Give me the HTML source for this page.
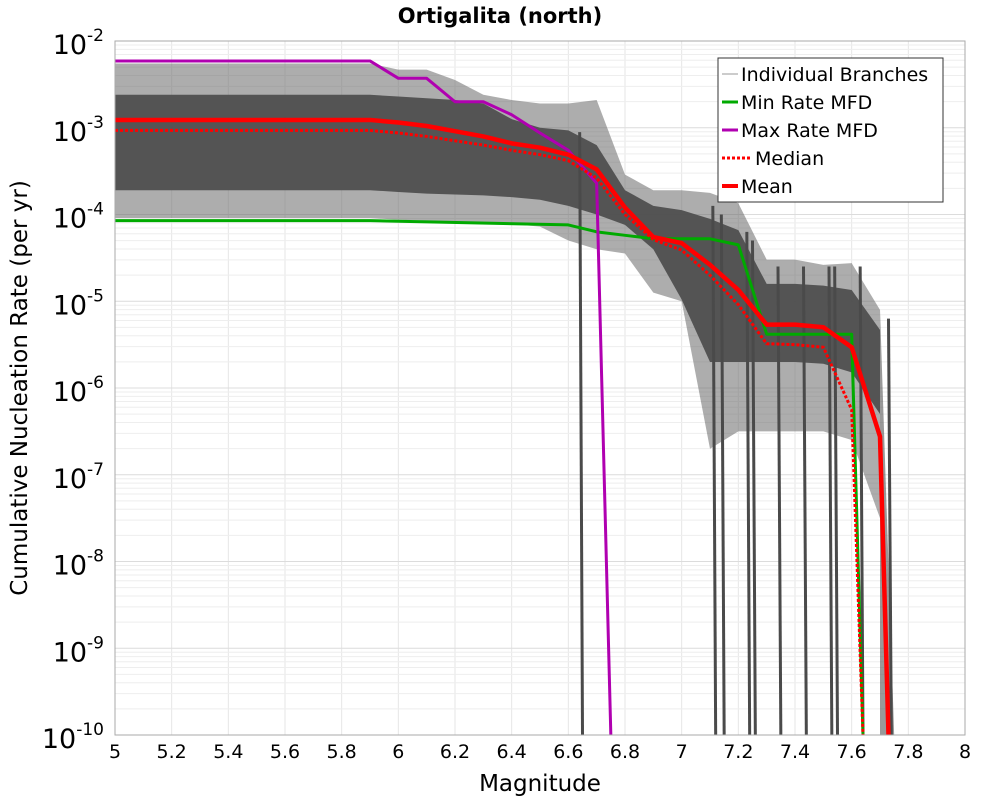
<!DOCTYPE html>
<html><head><meta charset="utf-8"><style>
body{margin:0;background:#fff;}
svg text{font-family:"DejaVu Sans","Liberation Sans",sans-serif;}
</style></head><body>
<svg id="chart" width="1000" height="800" xmlns="http://www.w3.org/2000/svg">
<text x="500" y="23" text-anchor="middle" font-size="21" font-weight="bold">Ortigalita (north)</text>
<g id="grid"></g>
<g id="band"></g>
<g id="series"></g>
<rect x="115" y="41" width="850" height="694" fill="none" stroke="#aaa" stroke-width="1"/>
<g id="xticks"></g>
<g id="yticks"></g>
<text x="540" y="791" text-anchor="middle" font-size="23">Magnitude</text>
<text transform="translate(27,388) rotate(-90)" text-anchor="middle" font-size="23">Cumulative Nucleation Rate (per yr)</text>
<g>
<rect x="718" y="58" width="225" height="144" fill="#fff" stroke="#333" stroke-width="1"/>
<line x1="722" y1="74" x2="738" y2="74" stroke="#999" stroke-width="1"/>
<text x="741" y="81" font-size="19">Individual Branches</text>
<line x1="722" y1="102" x2="738" y2="102" stroke="#00aa00" stroke-width="3"/>
<text x="741" y="109" font-size="19">Min Rate MFD</text>
<line x1="722" y1="130" x2="738" y2="130" stroke="#b000b0" stroke-width="3"/>
<text x="741" y="137" font-size="19">Max Rate MFD</text>
<line x1="722" y1="158" x2="750" y2="158" stroke="#f00" stroke-width="3" stroke-dasharray="3,2"/>
<text x="755" y="165" font-size="19">Median</text>
<line x1="722" y1="186" x2="738" y2="186" stroke="#f00" stroke-width="4"/>
<text x="741" y="193" font-size="19">Mean</text>
</g>
</svg>
<script>
const mags=[5.0,5.9,6.0,6.1,6.2,6.3,6.4,6.5,6.6,6.7,6.8,6.9,7.0,7.1,7.2,7.3,7.4,7.5,7.6,7.7];
// log10 rates
const minMag=[5.0,5.9,6.6,6.7,6.8,6.9,7.0,7.1,7.2,7.3,7.4,7.5,7.6,7.64];
const minRate=[-4.07,-4.07,-4.12,-4.2,-4.24,-4.28,-4.28,-4.28,-4.35,-5.38,-5.38,-5.38,-5.38,-10];
const maxMag=[5.0,5.9,6.0,6.1,6.2,6.3,6.4,6.5,6.6,6.7,6.75];
const maxRate=[-2.23,-2.23,-2.43,-2.43,-2.7,-2.7,-2.85,-3.06,-3.26,-3.64,-10];
const meanMag=[5.0,5.9,6.0,6.1,6.2,6.3,6.4,6.5,6.6,6.7,6.8,6.9,7.0,7.1,7.2,7.3,7.4,7.5,7.6,7.7,7.73];
const meanRate=[-2.91,-2.91,-2.94,-2.98,-3.04,-3.1,-3.18,-3.23,-3.31,-3.48,-3.92,-4.26,-4.33,-4.58,-4.87,-5.27,-5.27,-5.3,-5.53,-6.56,-10];
const medMag=[5.0,5.9,6.0,6.1,6.2,6.3,6.4,6.5,6.6,6.7,6.8,6.9,7.0,7.1,7.2,7.3,7.4,7.5,7.6,7.64];
const medRate=[-3.03,-3.03,-3.06,-3.1,-3.15,-3.2,-3.26,-3.31,-3.38,-3.58,-4.0,-4.29,-4.41,-4.7,-5.04,-5.49,-5.5,-5.53,-6.25,-10];
const outerTop=[-2.26,-2.26,-2.33,-2.33,-2.45,-2.62,-2.68,-2.72,-2.72,-2.68,-3.54,-3.72,-3.72,-3.75,-3.87,-4.52,-4.52,-4.58,-4.56,-5.1];
const outerBot=[-4.04,-4.04,-4.06,-4.07,-4.09,-4.1,-4.11,-4.14,-4.3,-4.4,-4.45,-4.9,-5.0,-6.7,-6.5,-6.5,-6.5,-6.5,-6.6,-7.5];
const innerTop=[-2.62,-2.62,-2.64,-2.66,-2.68,-2.72,-2.9,-3.0,-3.03,-3.2,-3.72,-3.9,-3.95,-4.05,-4.18,-4.8,-4.8,-4.82,-4.87,-5.33];
const innerBot=[-3.72,-3.72,-3.74,-3.76,-3.77,-3.78,-3.8,-3.83,-3.9,-4.0,-4.12,-4.4,-4.98,-5.7,-5.7,-5.7,-5.7,-5.72,-5.82,-6.3];
const cutMag=[6.65,7.12,7.15,7.24,7.26,7.35,7.44,7.53,7.55,7.64,7.74];
const cutTop=[-3.05,-3.9,-4.0,-4.2,-4.3,-4.6,-4.6,-4.6,-4.6,-4.6,-5.2];
const xTicks=[5,5.2,5.4,5.6,5.8,6,6.2,6.4,6.6,6.8,7,7.2,7.4,7.6,7.8,8];
const yTicks=[-2,-3,-4,-5,-6,-7,-8,-9,-10];
const X=m=>115+(m-5)*850/3;
const Y=l=>41+(-2-l)*694/8;
const NS="http://www.w3.org/2000/svg";
function mk(parent,tag,attrs){const e=document.createElementNS(NS,tag);for(const k in attrs)e.setAttribute(k,attrs[k]);document.getElementById(parent).appendChild(e);return e;}
// grid
for(let m=5.2;m<8;m+=0.2){const e=mk('grid','line',{x1:X(m),x2:X(m),y1:41,y2:735,stroke:'#e6e6e6'});

}
for(let d=-10;d<-2;d++){for(let k=1;k<10;k++){const l=d+Math.log10(k);const e=mk('grid','line',{x1:115,x2:965,y1:Y(l),y2:Y(l),stroke:k==1?'#dcdcdc':'#eeeeee'});

}}
function pts(ms,rs){return ms.map((m,i)=>X(m)+','+Math.min(Y(Math.max(rs[i],-10)),735)).join(' ');}
function poly(top,bot,fill,op,name){const p=pts(mags,top)+' '+pts(mags.slice().reverse(),bot.slice().reverse());
const e=mk('band','polygon',{points:p,fill:fill,'fill-opacity':op});

}
poly(outerTop,outerBot,'#6a6a6a',0.55,'branch-envelope-outer');
poly(innerTop,innerBot,'#4f4f4f',0.95,'branch-envelope-inner');
// fall-off tail after 7.7
{const e=mk('band','polygon',{points:X(7.7)+','+Y(outerTop[19])+' '+X(7.75)+','+Y(-10)+' '+X(7.7)+','+Y(-10)+' '+X(7.7)+','+Y(outerBot[19]),fill:'#555','fill-opacity':0.6});

}
cutMag.forEach((m,i)=>{const e=mk('band','line',{x1:X(m-0.01),y1:Y(cutTop[i]),x2:X(m),y2:735,stroke:'#4a4a4a','stroke-width':3});

});
function line(ms,rs,color,w,dash,name){const e=mk('series','polyline',{points:pts(ms,rs),fill:'none',stroke:color,'stroke-width':w,'stroke-linejoin':'round'});
if(dash)e.setAttribute('stroke-dasharray',dash);

}
line(minMag,minRate,'#00aa00',3,null,'min-rate-line');
line(maxMag,maxRate,'#b000b0',3,null,'max-rate-line');
line(medMag,medRate,'#ff0000',3,'3,2','median-line');
line(meanMag,meanRate,'#ff0000',4.5,null,'mean-line');
xTicks.forEach(t=>{const e=mk('xticks','text',{x:X(t),y:758,'text-anchor':'middle','font-size':19});e.textContent=String(t);

});
yTicks.forEach(t=>{const e=mk('yticks','text',{x:104,y:Y(t)+13,'text-anchor':'end','font-size':27});


e.textContent='10';const s=document.createElementNS(NS,'tspan');s.setAttribute('dy','-13');s.setAttribute('font-size','17');s.textContent=String(t);e.appendChild(s);});
</script>
</body></html>
